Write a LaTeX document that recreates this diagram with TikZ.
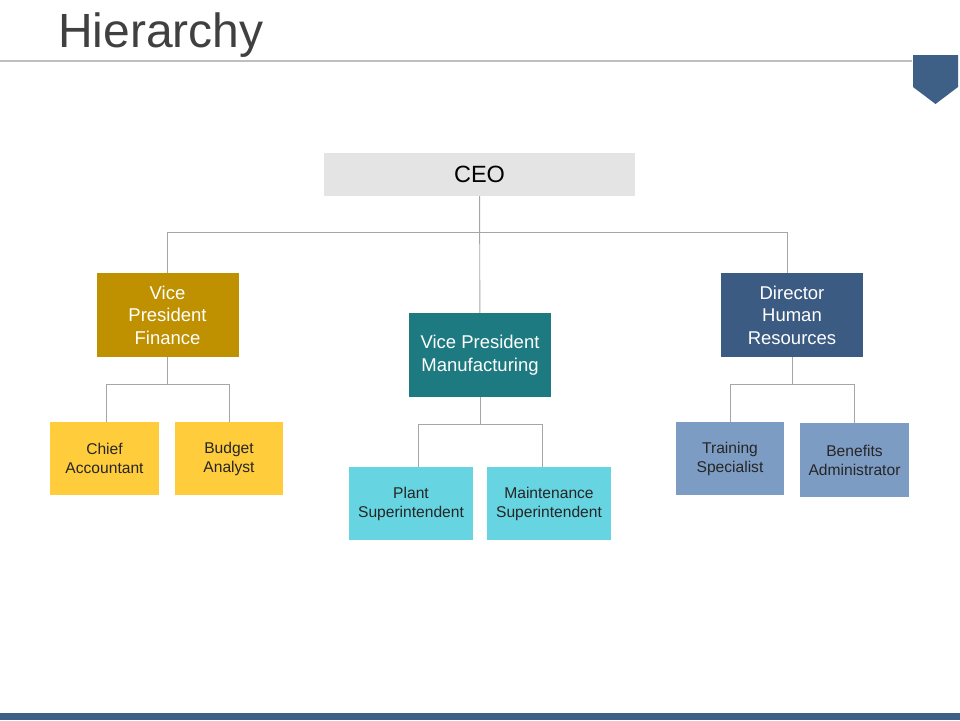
\documentclass[tikz,border=0pt]{standalone}
\usepackage{fontspec}
\setmainfont{Liberation Sans}
\usetikzlibrary{positioning}
\definecolor{titlegray}{HTML}{404040}
\definecolor{rulegray}{HTML}{BFBFBF}
\definecolor{linkgray}{HTML}{A6A6A6}
\definecolor{ceofill}{HTML}{E4E4E4}
\definecolor{financegold}{HTML}{BF9000}
\definecolor{manuteal}{HTML}{1C7A80}
\definecolor{hrblue}{HTML}{3C5B82}
\definecolor{financelight}{HTML}{FFCC3C}
\definecolor{manulight}{HTML}{66D4E1}
\definecolor{hrlight}{HTML}{7C9CC3}
\definecolor{barblue}{HTML}{3E5F86}
\definecolor{textdark}{HTML}{262626}

\begin{document}
\begin{tikzpicture}[x=1pt,y=-1pt,
    box/.style={inner sep=0pt,align=center},
    head/.style={box,minimum width=142pt,minimum height=84pt,text=white,font=\fontsize{18.5}{22.5}\selectfont},
    staff/.style={box,minimum width=109pt,minimum height=73pt,text=textdark,font=\fontsize{15.6}{19}\selectfont},
    link/.style={draw=linkgray,line width=0.9pt}]
        \useasboundingbox (0,0) rectangle (960,720);
        \node[anchor=base west,text=titlegray,font=\fontsize{48}{55}\selectfont,inner sep=0pt] (title) at (58,47) {Hierarchy};
        \draw[rulegray,line width=1.6pt] (0,61) -- (912,61);
        \fill[barblue] (913,55) -- (958,55) -- (958,87) -- (935.5,104) -- (913,87) -- cycle;
        \fill[barblue] (0,713) rectangle (960,720);

        \node[box,fill=ceofill,minimum width=311pt,minimum height=43pt,font=\fontsize{23.5}{27}\selectfont] (ceo) at (479.5,174.5) {CEO};
        \node[head,fill=financegold] (vpf) at (167.5,315) {Vice\\President\\Finance};
        \node[head,fill=manuteal] (vpm) at (480,355) {Vice President\\Manufacturing};
        \node[head,fill=hrblue] (dhr) at (792,315) {Director\\Human\\Resources};

        \node[staff,fill=financelight] (chief) at (104.5,458.5) {Chief\\Accountant};
        \node[staff,fill=financelight,minimum width=108pt] (budget) at (229,458.5) {Budget\\Analyst};
        \node[staff,fill=manulight,minimum width=124pt] (plant) at (411,503.5) {Plant\\Superintendent};
        \node[staff,fill=manulight,minimum width=124pt] (maint) at (549,503.5) {Maintenance\\Superintendent};
        \node[staff,fill=hrlight,minimum width=108pt] (train) at (730,458.5) {Training\\Specialist};
        \node[staff,fill=hrlight,minimum height=74pt] (benef) at (854.5,460) {Benefits\\Administrator};

        \coordinate (ceobus) at (480,232);
        \coordinate (vpfbus) at (167.5,384);
        \coordinate (vpmbus) at (480,424);
        \coordinate (dhrbus) at (792,384);

        \draw[link] (ceo) -- (vpm);
        \draw[link] (ceobus) -| (vpf);
        \draw[link] (ceobus) -| ([xshift=-5pt]dhr.north);
        \draw[link] (vpf) -- (vpfbus);
        \draw[link] (vpfbus) -| ([xshift=1.5pt]chief.north);
        \draw[link] (vpfbus) -| (budget);
        \draw[link] (vpm) -- (vpmbus);
        \draw[link] (vpmbus) -| ([xshift=7pt]plant.north);
        \draw[link] (vpmbus) -| ([xshift=-7pt]maint.north);
        \draw[link] (dhr) -- (dhrbus);
        \draw[link] (dhrbus) -| (train);
        \draw[link] (dhrbus) -| (benef);
\end{tikzpicture}
\end{document}
